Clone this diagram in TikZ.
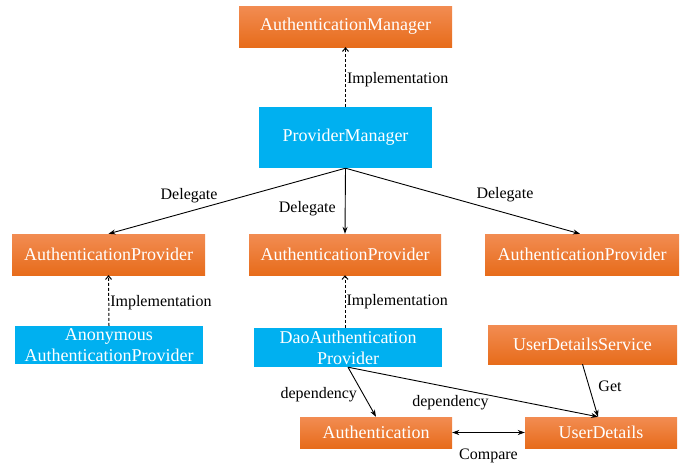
\documentclass[tikz,border=0pt]{standalone}
\usepackage{fontspec}
\setmainfont{Liberation Serif}
\usetikzlibrary{arrows.meta,calc}
\definecolor{orgtop}{HTML}{F28C52}
\definecolor{orgbot}{HTML}{E76C1B}
\definecolor{bluebox}{HTML}{00B0F0}
\tikzset{
  box/.style={inner sep=0pt, text=white, align=center,
    font=\fontsize{18}{21}\selectfont},
  obox/.style={box, top color=orgtop, bottom color=orgbot, draw=none},
  bbox/.style={box, fill=bluebox},
  lbl/.style={font=\fontsize{16}{18}\selectfont, text=black, inner sep=1pt},
  sarrow/.style={draw=black, line width=0.9pt, -{Stealth[length=7pt,width=5pt]}},
  darrow/.style={draw=black, line width=1pt, dashed, dash pattern=on 3pt off 2pt, -{Straight Barb[length=3.5pt,width=6pt]}},
  barrow/.style={draw=black, line width=0.9pt, {Stealth[length=7pt,width=5pt]}-{Stealth[length=7pt,width=5pt]}},
}
\begin{document}
\begin{tikzpicture}[x=1pt,y=-1pt]
\useasboundingbox (0,0) rectangle (686,464);
\node[obox, minimum width=213pt, minimum height=41pt] (am) at (345.5,26.5) {AuthenticationManager};
\node[bbox, minimum width=173pt, minimum height=61pt] (pm) at (345.5,137.5) {ProviderManager};
\node[obox, minimum width=193pt, minimum height=41pt] (ap1) at (108.5,254.5) {AuthenticationProvider};
\node[obox, minimum width=192pt, minimum height=41pt] (ap2) at (345,254.5) {AuthenticationProvider};
\node[obox, minimum width=194pt, minimum height=41pt] (ap3) at (582,254.5) {AuthenticationProvider};
\node[bbox, minimum width=188pt, minimum height=38pt] (anon) at (109,345) {Anonymous\\AuthenticationProvider};
\node[bbox, minimum width=188pt, minimum height=39pt] (dao) at (348,347.5) {DaoAuthentication\\Provider};
\node[obox, minimum width=189pt, minimum height=39pt] (uds) at (582.5,344.5) {UserDetailsService};
\node[obox, minimum width=152pt, minimum height=31pt] (auth) at (376,432.5) {Authentication};
\node[obox, minimum width=152pt, minimum height=31pt] (ud) at (601,432.5) {UserDetails};
\coordinate (udin) at ($(ud.north)+(-3,0)$);

\draw[darrow] (pm.north) -- (am.south) node[lbl, pos=0.45, right] {Implementation};
\draw[sarrow] (pm.south) -- (ap1.north) node[lbl, pos=0.66, above=7pt] {Delegate};
\draw[sarrow] (pm.south) -- (ap2.north) node[lbl, pos=0.62, left=8pt] {Delegate};
\draw[sarrow] (pm.south) -- ($(ap3.north)+(-2,0)$) node[lbl, pos=0.68, above=9pt] {Delegate};
\draw[darrow] (anon.north) -- (ap1.north |- ap1.south) node[lbl, pos=0.45, right] {Implementation};
\draw[darrow] (dao.north -| ap2.south) -- (ap2.south) node[lbl, midway, right] {Implementation};
\draw[sarrow] (dao.south) -- (auth.north) node[lbl, pos=0.55, left=5pt] {dependency};
\draw[sarrow] (dao.south) -- (udin) node[lbl, pos=0.41, below=6pt] {dependency};
\draw[sarrow] (uds.south) -- (udin) node[lbl, pos=0.42, right=8pt] {Get};
\draw[barrow] (auth.east) -- (ud.west) node[lbl, midway, below=15pt] {Compare};
\end{tikzpicture}
\end{document}
